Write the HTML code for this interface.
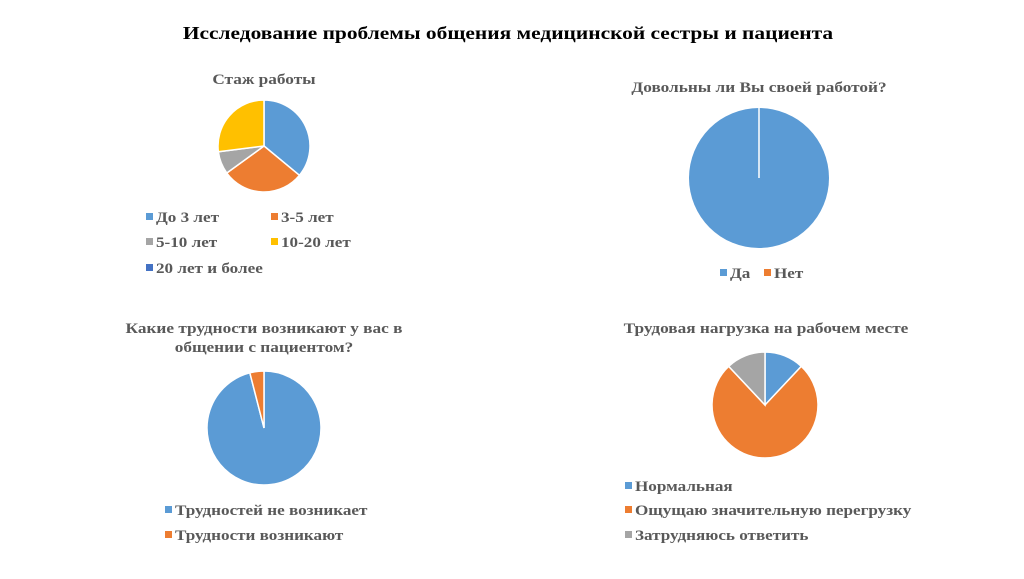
<!DOCTYPE html>
<html><head><meta charset="utf-8"><style>
body{margin:0;background:#fff;width:1024px;height:574px;overflow:hidden;font-family:"Liberation Serif",serif;}
svg text{font-family:"Liberation Serif",serif;font-weight:bold;}
</style></head><body>
<svg id="s" width="1024" height="574">
<text id="mt" x="508" y="39" text-anchor="middle" font-size="18" fill="#000">Исследование проблемы общения медицинской сестры и пациента</text>
</svg>
<script>
const cats1=["До 3 лет","3-5 лет","5-10 лет","10-20 лет","20 лет и более"];
const vals1=[36,29,8,27,0];
const cats2=["Да","Нет"];
const vals2=[100,0];
const cats3=["Трудностей не возникает","Трудности возникают"];
const vals3=[96,4];
const cats4=["Нормальная","Ощущаю значительную перегрузку","Затрудняюсь ответить"];
const vals4=[12,76,12];
const colors=["#5b9bd5","#ed7d31","#a5a5a5","#ffc000","#4472c4"];
const s=document.getElementById('s');
const NS="http://www.w3.org/2000/svg";
function mk(t,a){const e=document.createElementNS(NS,t);for(const k in a)e.setAttribute(k,a[k]);s.appendChild(e);return e;}
function stretch(e,f){const w=e.getComputedTextLength();e.setAttribute('textLength',w*f);e.setAttribute('lengthAdjust','spacingAndGlyphs');}
function pie(name,cats,vals,cx,cy,r,title,legend){
  title.forEach((t,i)=>{const e=mk('text',{x:title.x||cx,y:title.y+i*19,'text-anchor':'middle','font-size':15,fill:'#595959'});e.textContent=t;
  
  
  stretch(e,1.15);});
  const tot=vals.reduce((a,b)=>a+b,0);let a0=0;
  vals.forEach((v,i)=>{
    const a1=a0+v/tot*2*Math.PI;
    let el;
    if(v/tot>=0.9999){el=mk('circle',{cx:cx,cy:cy,r:r,fill:colors[i]});
      mk('line',{x1:cx,y1:cy,x2:cx,y2:cy-r,stroke:'#fff','stroke-width':1.5});}
    else if(v>0){
      const x0=cx+r*Math.sin(a0),y0=cy-r*Math.cos(a0),x1=cx+r*Math.sin(a1),y1=cy-r*Math.cos(a1);
      el=mk('path',{d:`M${cx},${cy}L${x0},${y0}A${r},${r} 0 ${a1-a0>Math.PI?1:0} 1 ${x1},${y1}Z`,fill:colors[i],stroke:'#fff','stroke-width':1.5});
    }
    if(el){
    }
    a0=a1;
  });
  cats.forEach((c,i)=>{
    const p=legend[i];
    const m=mk('rect',{x:p[0],y:p[1]-4,width:7,height:7,fill:colors[i]});
    
    
    const t=mk('text',{x:p[0]+10,y:p[1]+5,'font-size':15,fill:'#595959'});t.textContent=c;
    
    
    stretch(t,1.14);
  });
}
stretch(document.getElementById('mt'),1.19);
let t1=["Стаж работы"];t1.y=84;t1.x=264;
pie('tenure-pie',cats1,vals1,264,146,46,t1,[[146,217],[271,217],[146,242],[271,242],[146,268]]);
let t2=["Довольны ли Вы своей работой?"];t2.y=92;t2.x=759;
pie('satisfaction-pie',cats2,vals2,759,178,70,t2,[[720,273],[764,273]]);
let t3=["Какие трудности возникают у вас в","общении с пациентом?"];t3.y=333;t3.x=264;
pie('difficulty-pie',cats3,vals3,264,428,57,t3,[[165,510],[165,535]]);
let t4=["Трудовая нагрузка на рабочем месте"];t4.y=333;t4.x=766;
pie('workload-pie',cats4,vals4,765,405,53,t4,[[625,486],[625,510],[625,535]]);
</script>
</body></html>
